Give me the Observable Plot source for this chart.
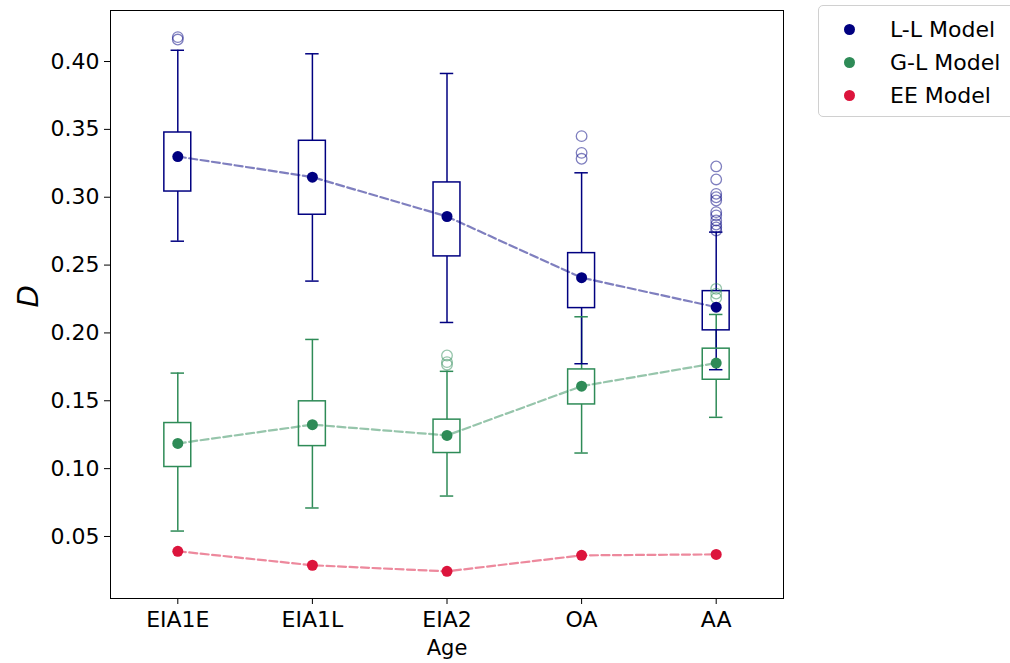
<!DOCTYPE html>
<html>
<head>
<meta charset="utf-8">
<script src="https://cdn.jsdelivr.net/npm/d3@7"></script>
<script src="https://cdn.jsdelivr.net/npm/@observablehq/plot@0.6"></script>
<style>
  body { margin: 0; background: white; font-family: "DejaVu Sans", sans-serif; }
  #wrap { position: relative; width: 1010px; height: 663px; }
  #legend { position: absolute; left: 818px; top: 5px; width: 200px; height: 112px;
    border: 1px solid #d0d0d0; border-radius: 5px; background: white; box-sizing: border-box; }
  .row { position: absolute; left: 0; height: 30px; font-size: 22px; color: black; white-space: nowrap; }
  .row .dot { position: absolute; left: 25px; top: 9px; width: 11px; height: 11px; border-radius: 50%; }
  .row .lab { position: absolute; left: 71px; top: 0px; line-height: 30px; }
</style>
</head>
<body>
<div id="wrap">
  <div id="chart"></div>
  <div id="legend"></div>
</div>
<script>
const categories = ["EIA1E", "EIA1L", "EIA2", "OA", "AA"];
const modelNames = ["L-L Model", "G-L Model", "EE Model"];
const modelColors = ["#000080", "#2e8b57", "#dc143c"];

// L-L Model
const llMean = [0.3300, 0.3148, 0.2858, 0.2407, 0.2190];
const llQ1   = [0.3042, 0.2871, 0.2564, 0.2183, 0.2019];
const llQ3   = [0.3477, 0.3416, 0.3109, 0.2588, 0.2308];
const llLow  = [0.2676, 0.2382, 0.2077, 0.1773, 0.1729];
const llHigh = [0.4083, 0.4057, 0.3912, 0.3180, 0.2743];
const llOutliers = [
  [0.4180, 0.4162],
  [],
  [],
  [0.3450, 0.3327, 0.3283],
  [0.3227, 0.3131, 0.3025, 0.3000, 0.2976, 0.2890, 0.2866, 0.2829, 0.2799, 0.2777, 0.2755]
];

// G-L Model
const glMean = [0.1186, 0.1324, 0.1245, 0.1608, 0.1778];
const glQ1   = [0.1012, 0.1166, 0.1115, 0.1473, 0.1655];
const glQ3   = [0.1336, 0.1496, 0.1361, 0.1731, 0.1884];
const glLow  = [0.0540, 0.0710, 0.0798, 0.1115, 0.1378];
const glHigh = [0.1704, 0.1952, 0.1717, 0.2119, 0.2136];
const glOutliers = [
  [],
  [],
  [0.1834, 0.1785, 0.1766],
  [],
  [0.2325, 0.2290, 0.2258]
];

// EE Model
const eeMean = [0.0391, 0.0288, 0.0243, 0.0361, 0.0368];

const yTicks = [0.05, 0.10, 0.15, 0.20, 0.25, 0.30, 0.35, 0.40];

function boxRows(mean, q1, q3, low, high, color) {
  return categories.map((c, i) => ({pos: i + 1, mean: mean[i], q1: q1[i], q3: q3[i], low: low[i], high: high[i], color}));
}
function outRows(outs, color) {
  return outs.flatMap((arr, i) => arr.map(v => ({pos: i + 1, v, color})));
}
const ll = boxRows(llMean, llQ1, llQ3, llLow, llHigh, modelColors[0]);
const gl = boxRows(glMean, glQ1, glQ3, glLow, glHigh, modelColors[1]);
const ee = categories.map((c, i) => ({pos: i + 1, mean: eeMean[i], color: modelColors[2]}));
const boxes = [...ll, ...gl];
const outs = [...outRows(llOutliers, modelColors[0]), ...outRows(glOutliers, modelColors[1])];

const halfBox = 0.1, halfCap = 0.05;
const dash = "8,3.5";

const chart = Plot.plot({
  width: 1010,
  height: 663,
  marginLeft: 110,
  marginRight: 227,
  marginTop: 10,
  marginBottom: 65,
  style: {fontFamily: "DejaVu Sans, sans-serif", fontSize: "22px", color: "black", background: "white"},
  x: {type: "linear", domain: [0.5, 5.5]},
  y: {domain: [0.0043, 0.4376]},
  marks: [
    Plot.axisX({ticks: [1, 2, 3, 4, 5], tickFormat: d => categories[d - 1], tickSize: 6, tickPadding: 7, label: null, fontSize: 22}),
    Plot.axisY({ticks: yTicks, tickFormat: d3.format(".2f"), tickSize: 6, tickPadding: 5, label: null, fontSize: 22}),
    Plot.text(["Age"], {frameAnchor: "bottom", dy: 56, text: d => d, fontSize: 21, fill: "black"}),
    Plot.text(["D"], {frameAnchor: "left", dx: -82, dy: 3, rotate: -90, text: d => d, fontSize: 29, fontStyle: "italic", fill: "black"}),
    // dashed connecting lines
    Plot.line(ll, {x: "pos", y: "mean", stroke: modelColors[0], strokeOpacity: 0.5, strokeWidth: 2.2, strokeDasharray: dash}),
    Plot.line(gl, {x: "pos", y: "mean", stroke: modelColors[1], strokeOpacity: 0.5, strokeWidth: 2.2, strokeDasharray: dash}),
    Plot.line(ee, {x: "pos", y: "mean", stroke: modelColors[2], strokeOpacity: 0.5, strokeWidth: 2.2, strokeDasharray: dash}),
    // whiskers
    Plot.ruleX(boxes, {x: "pos", y1: "q3", y2: "high", stroke: "color", strokeWidth: 1.5}),
    Plot.ruleX(boxes, {x: "pos", y1: "low", y2: "q1", stroke: "color", strokeWidth: 1.5}),
    // caps
    Plot.ruleY(boxes, {y: "high", x1: d => d.pos - halfCap, x2: d => d.pos + halfCap, stroke: "color", strokeWidth: 1.5}),
    Plot.ruleY(boxes, {y: "low", x1: d => d.pos - halfCap, x2: d => d.pos + halfCap, stroke: "color", strokeWidth: 1.5}),
    // boxes
    Plot.rect(boxes, {x1: d => d.pos - halfBox, x2: d => d.pos + halfBox, y1: "q1", y2: "q3", fill: "none", stroke: "color", strokeWidth: 1.5}),
    // outliers
    Plot.dot(outs, {x: "pos", y: "v", r: 5.3, stroke: "color", strokeOpacity: 0.5, strokeWidth: 1.3, fill: "none"}),
    // mean dots
    Plot.dot([...ll, ...gl, ...ee], {x: "pos", y: "mean", r: 5.5, fill: "color", stroke: "none"}),
    Plot.frame({stroke: "black", strokeWidth: 1})
  ]
});
document.getElementById("chart").appendChild(chart);

const legend = document.getElementById("legend");
modelNames.forEach((name, i) => {
  const row = document.createElement("div");
  row.className = "row";
  row.style.top = (9 + i * 33) + "px";
  const dot = document.createElement("span");
  dot.className = "dot";
  dot.style.background = modelColors[i];
  const lab = document.createElement("span");
  lab.className = "lab";
  lab.textContent = name;
  row.appendChild(dot);
  row.appendChild(lab);
  legend.appendChild(row);
});
</script>
</body>
</html>
